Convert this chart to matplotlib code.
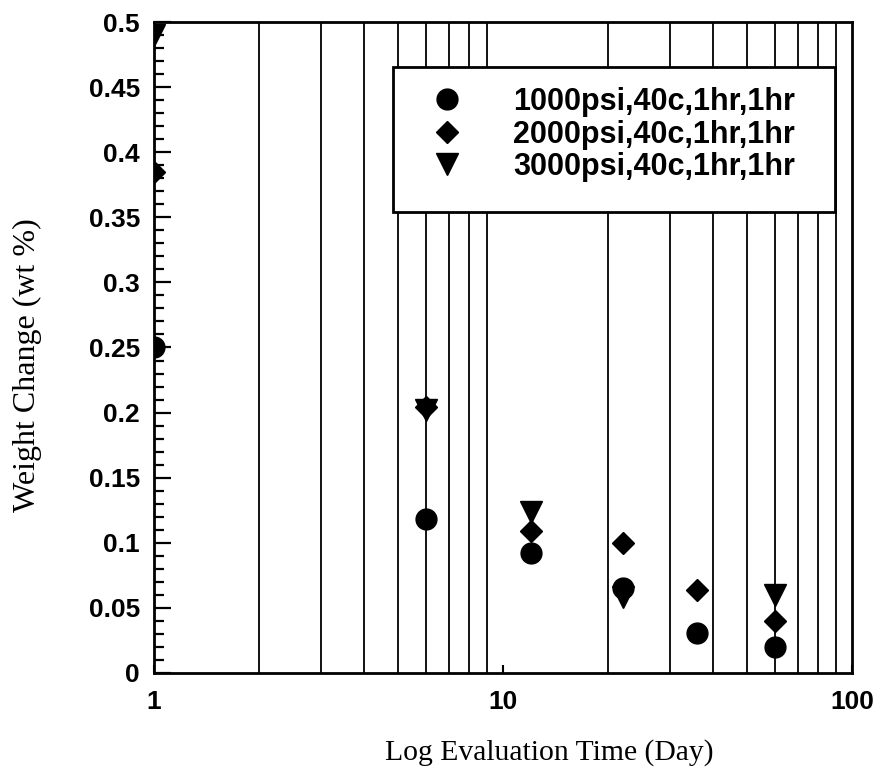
import numpy as np
import matplotlib
matplotlib.use("Agg")
from matplotlib import pyplot as plt
from matplotlib.patches import Rectangle
from matplotlib.ticker import FixedLocator, MultipleLocator, FuncFormatter

days = [1, 6, 12, 22, 36, 60]
w1000 = [0.250, 0.118, 0.092, 0.065, 0.031, 0.020]
w2000 = [0.385, 0.204, 0.109, 0.100, 0.064, 0.040]
w3000 = [0.490, 0.202, 0.124, 0.058, np.nan, 0.060]
labels = ["1000psi,40c,1hr,1hr", "2000psi,40c,1hr,1hr", "3000psi,40c,1hr,1hr"]

sans = ["Liberation Sans", "DejaVu Sans"]
serif = ["Liberation Serif", "DejaVu Serif"]

fig = plt.figure(figsize=(8.82, 7.78), dpi=100)
ax = fig.add_axes([0.1746, 0.135, 0.7914, 0.8367])

ms = 15
ax.plot(days, w1000, "o", color="k", ms=ms, label=labels[0])
ax.plot(days, w2000, "D", color="k", ms=ms * 0.78, label=labels[1])
ax.plot(days, w3000, "v", color="k", ms=ms * 1.05, label=labels[2])

ax.set_xscale("log")
ax.set_xlim(1, 100)
ax.set_ylim(0, 0.5)

# vertical lines at every minor log position
ax.xaxis.set_minor_locator(FixedLocator([m * d for d in (1, 10) for m in range(2, 10)]))
ax.grid(which="minor", axis="x", color="k", lw=1.3)
ax.xaxis.set_major_locator(FixedLocator([1, 10, 100]))
ax.xaxis.set_major_formatter(FuncFormatter(lambda v, p: "%g" % v))
ax.xaxis.set_minor_formatter(FuncFormatter(lambda v, p: ""))
ax.tick_params(axis="x", which="major", direction="in", length=6, width=1.5, pad=12)
ax.tick_params(axis="x", which="minor", length=0)

ax.yaxis.set_major_locator(MultipleLocator(0.05))
ax.yaxis.set_minor_locator(MultipleLocator(0.01))
ax.yaxis.set_major_formatter(FuncFormatter(lambda v, p: "%g" % round(v, 2)))
ax.tick_params(axis="y", which="major", direction="in", length=12, width=1.6, pad=10)
ax.tick_params(axis="y", which="minor", direction="in", length=7, width=1.6)

for lab in ax.get_xticklabels() + ax.get_yticklabels():
    lab.set_family(sans)
    lab.set_fontweight("bold")
    lab.set_fontsize(19)

for s in ax.spines.values():
    s.set_linewidth(2)

ax.set_xlabel("Log Evaluation Time (Day)", family=serif, fontsize=21.3)
ax.xaxis.set_label_coords(0.566, -0.101)
ax.set_ylabel("Weight Change (wt %)", family=serif, fontsize=23)
ax.yaxis.set_label_coords(-0.16, 0.473)

# legend box
box = Rectangle((0.342, 0.708), 0.634, 0.223, transform=ax.transAxes,
                facecolor="white", edgecolor="k", lw=2, zorder=4)
ax.add_patch(box)
leg = ax.legend(loc="upper left", bbox_to_anchor=(0.398, 0.90), frameon=False,
                borderpad=0, borderaxespad=0, handlelength=1.0, handletextpad=1.67,
                labelspacing=0.08, prop={"family": sans, "weight": "bold", "size": 22})
leg.set_zorder(5)

fig.savefig("out.png", dpi=100)
